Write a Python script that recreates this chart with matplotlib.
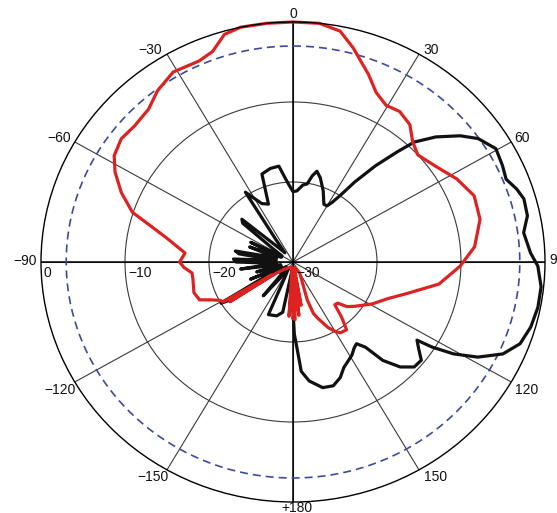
import numpy as np
import matplotlib
matplotlib.use("Agg")
import matplotlib.pyplot as plt

plt.rcParams['font.family'] = ['Liberation Sans', 'DejaVu Sans']

# ---- data (angle in degrees, clockwise from top; level in dB) ----
red_deg = [-180, -178, -176, -174, -170, -155, -140, -130, -125, -123.5, -122.5, -121, -119, -116,
           -113, -108, -100, -96.5, -93, -90, -85, -79, -75, -72, -67, -62, -58, -53, -48, -42,
           -37, -31, -24, -20, -16, -12, -6, 0, 6, 11, 15, 21, 25, 29.5, 34, 39, 43.5, 48, 55,
           62, 69, 76.5, 85, 91.5, 99, 106, 112, 119, 127, 131, 134, 137, 140, 143, 147.5, 150,
           153, 157, 159.3, 160.3, 157, 150, 160, 168, 170, 172, 174, 176, 178, 180]
red_db = [-23.0, -28.0, -23.2, -28.5, -29.3, -29.3, -29.0, -28.5, -27.5, -21.0, -27.0, -20.3, -20.1, -19.2,
          -17.9, -17.6, -17.9, -17.9, -17.0, -16.5, -17.1, -14.8, -12.4, -9.9, -7.8, -6.0, -4.9, -4.4, -4.6, -4.3,
          -3.2, -2.3, -2.5, -2.0, -0.4, 0.0, 0.0, 0.0, 0.0, -0.6, -2.3, -4.9, -6.6, -7.5, -7.3, -7.9, -9.3, -10.0, -9.2,
          -7.9, -6.9, -7.1, -8.3, -10.1, -12.4, -15.8, -17.8, -19.2, -20.8, -21.5, -22.6, -22.7, -21.0, -19.4, -19.5, -20.0,
          -20.8, -22.3, -23.1, -25.0, -27.0, -28.4, -29.3, -29.0, -24.5, -28.5, -23.3, -28.0, -22.8, -23.0]

black_deg = [-180, -179, -174, -169, -164, -156, -153, -147, -143, -140, -137, -131, -126, -123, -121,
             -119, -116, -113, -110, -106, -103, -98, -95, -90, -87, -84, -81, -78.7, -75, -70, -67,
             -64, -60, -55, -51, -48.7, -45, -40, -36, -33, -27, -22, -18.6, -13, -8, -5, -3, 0, 3, 7,
             9.8, 12, 14.1, 17.2, 22, 27, 30, 32, 34, 36.3, 39.2, 42, 43.9, 47.4, 51.6, 55, 59.6, 64.2,
             67.8, 71.1, 74, 78.3, 82.4, 87.7, 91, 96, 101, 106, 110.7, 114.7, 118.4, 121, 122.7, 123.5,
             126, 128.8, 132.3, 135.8, 139, 141, 143.5, 146, 149, 152, 155.3, 158.7, 162.8, 167.3, 172.6,
             175.9, 177, 179, 180]
black_db = [-24.0, -28.5, -29.0, -23.6, -23.0, -22.8, -28.0, -29.0, -27.5, -24.5, -28.5, -28.0, -29.0, -21.5, -20.0,
            -26.0, -28.5, -24.5, -28.5, -25.5, -28.5, -23.7, -28.0, -23.2, -22.9, -28.0, -23.5, -23.0, -28.0, -24.5, -28.5,
            -24.4, -28.5, -27.0, -22.3, -21.9, -27.0, -28.5, -26.5, -19.6, -21.8, -22.2, -18.4, -18.0, -17.9, -19.5, -20.3,
            -21.2, -21.1, -20.3,
            -20.1, -19.0, -18.3, -19.0, -20.4, -21.9, -21.9, -21.2, -20.0, -17.6, -14.5, -11.5, -9.2, -6.9, -4.6, -3.1, -2.0, -2.3,
            -2.6, -1.85, -1.4, -1.5, -2.3, -1.7, -0.85, -0.3, -0.3, -0.55, -1.1, -2.5, -5.0, -7.7, -10.3, -12.3,
            -11.5, -10.4, -10.5, -11.7, -13.7, -16.3, -17.3, -17.0, -16.4, -16.0, -15.5, -14.5, -13.8, -13.9, -15.0,
            -16.3, -18.5, -21.0, -24.0]

angle_ticks = list(range(-150, 181, 30))
angle_labels = ['−150', '−120', '−90', '−60', '−30', '0', '30', '60', '90', '120', '150', '+180']
radial_ticks = [0, -10, -20, -30]
radial_labels = ['0', '−10', '−20', '−30']
ref_level = -3
r_min, r_max = -30, 0

# ---- figure ----
fig = plt.figure(figsize=(5.57, 5.13), dpi=100)
fig.patch.set_facecolor('white')
ax = fig.add_axes([41/557, 11/513, 504/557, 480/513], projection='polar')
ax.set_aspect('auto')
ax.set_theta_zero_location('N')
ax.set_theta_direction(-1)
ax.set_ylim(r_min, r_max)
ax.set_xticks(np.deg2rad(np.arange(0, 360, 30)))
ax.set_xticklabels([])
ax.set_yticks([-20, -10])
ax.set_yticklabels([])
ax.tick_params(length=0)
ax.grid(True, color='#3a3a3a', lw=0.8)
ax.spines['polar'].set_color('black')
ax.spines['polar'].set_linewidth(1.0)
for a in [0, 90, 180, 270]:
    ax.axvline(np.deg2rad(a), color='black', lw=1.1)

th = np.linspace(0, 2*np.pi, 721)
ax.plot(th, np.full_like(th, ref_level), color='#3d4a9c', lw=1.2, dashes=(4.8, 3.0))

ax.plot(np.deg2rad(black_deg), black_db, color='#111111', lw=2.3, clip_on=False, solid_joinstyle='round')
ax.plot(np.deg2rad(red_deg), red_db, color='#dd2222', lw=2.3, clip_on=False, solid_joinstyle='round')

# angle labels: offsets in px (dx, dy) and alignment
offs = {
    -150: (2, -7, 'right'), -120: (1, -8, 'right'), -90: (-4, 1, 'right'), -60: (-4, 4, 'right'),
    -30: (-5, 4, 'right'), 0: (0, 8, 'center'), 30: (4, 4, 'left'), 60: (3, 4, 'left'),
    90: (4, 2, 'left'), 120: (4, -8, 'left'), 150: (5, -7, 'left'), 180: (4, -6, 'center'),
}
for a, t in zip(angle_ticks, angle_labels):
    dx, dy, ha = offs[a]
    ax.annotate(t, xy=(np.deg2rad(a), r_max), xycoords='data',
                xytext=(dx*0.72, dy*0.72), textcoords='offset points',
                ha=ha, va='center', fontsize=10, color='#111111', annotation_clip=False)

for r, t in zip(radial_ticks, radial_labels):
    ax.annotate(t, xy=(np.deg2rad(-90), r), xycoords='data',
                xytext=(3*0.72, -4*0.72), textcoords='offset points',
                ha='left', va='top', fontsize=10, color='#111111', annotation_clip=False)

fig.savefig('out.png', dpi=100, facecolor='white')
